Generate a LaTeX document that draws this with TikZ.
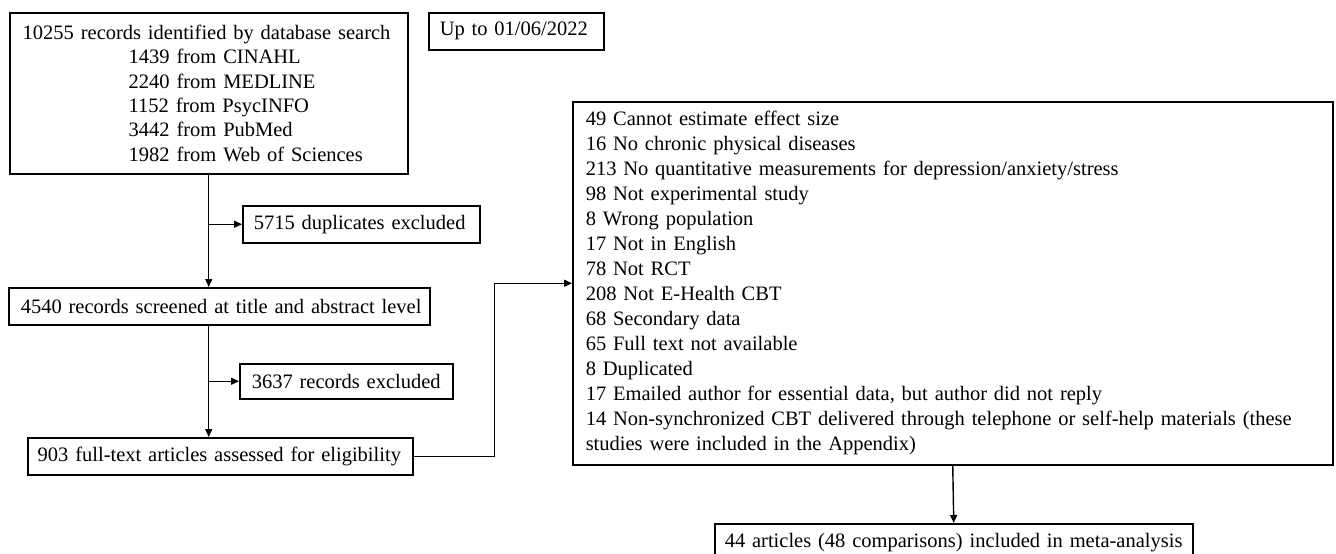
\documentclass[tikz,border=0pt]{standalone}
\usepackage{fontspec}
\setmainfont{Liberation Serif}
\usetikzlibrary{arrows.meta}
\begin{document}
\begin{tikzpicture}[x=1pt,y=-1pt,
  box/.style={draw, line width=1.5pt, anchor=north west, align=left, inner ysep=0pt,
    font=\fontsize{20.5pt}{24.3pt}\selectfont},
  arr/.style={line width=1.4pt, -{Triangle[length=8pt,width=7pt]}},
  ln/.style={line width=1.4pt}]
\useasboundingbox (0,0) rectangle (1336,554);

\node[box, minimum height=161pt, inner xsep=13pt, text width=372pt] (src) at (9,12)
  {\mbox{10255 records identified by database search}\\
   \hspace*{106pt}1439 from CINAHL\\
   \hspace*{106pt}2240 from MEDLINE\\
   \hspace*{106pt}1152 from PsycINFO\\
   \hspace*{106pt}3442 from PubMed\\
   \hspace*{106pt}1982 from Web of Sciences};

\node[box, minimum height=37pt, inner xsep=11pt, text width=153pt] (date) at (428,12)
  {\mbox{Up to 01/06/2022}};

\node[box, minimum height=37pt, inner xsep=11pt, text width=215pt] (dup) at (242,205)
  {\mbox{5715 duplicates excluded}};

\node[box, minimum height=37pt, inner xsep=12pt, text width=397pt] (scr) at (8,287)
  {\mbox{4540 records screened at title and abstract level}};

\node[box, minimum height=35pt, inner xsep=12pt, text width=189pt] (rex) at (239,363)
  {\mbox{3637 records excluded}};

\node[box, minimum height=37pt, inner xsep=10pt, text width=365pt] (full) at (27,437)
  {\mbox{903 full-text articles assessed for eligibility}};

\node[box, minimum height=363pt, inner xsep=13pt, text width=734pt,
      font=\fontsize{20.5pt}{25pt}\selectfont] (excl) at (572,101)
  {49 Cannot estimate effect size\\
   16 No chronic physical diseases\\
   213 No quantitative measurements for depression/anxiety/stress\\
   98 Not experimental study\\
   8 Wrong population\\
   17 Not in English\\
   78 Not RCT\\
   208 Not E-Health CBT\\
   68 Secondary data\\
   65 Full text not available\\
   8 Duplicated\\
   17 Emailed author for essential data, but author did not reply\\
   \mbox{14 Non-synchronized CBT delivered through telephone or self-help materials (these}\\
   studies were included in the Appendix)};

\node[box, minimum height=38pt, inner xsep=10pt, text width=458pt] (inc) at (714,523)
  {\mbox{44 articles (48 comparisons) included in meta-analysis}};

\draw[arr] (src.south) -- (src.south |- scr.north);
\draw[arr] (src.south |- dup.west) -- (dup.west);
\draw[arr] (src.south |- scr.south) -- (src.south |- full.north);
\draw[arr] (src.south |- rex.west) -- (rex.west);
\draw[arr] (full.east) -- ++(81,0) |- (excl.west);
\draw[arr] (excl.south) -- (inc.north);
\end{tikzpicture}
\end{document}
